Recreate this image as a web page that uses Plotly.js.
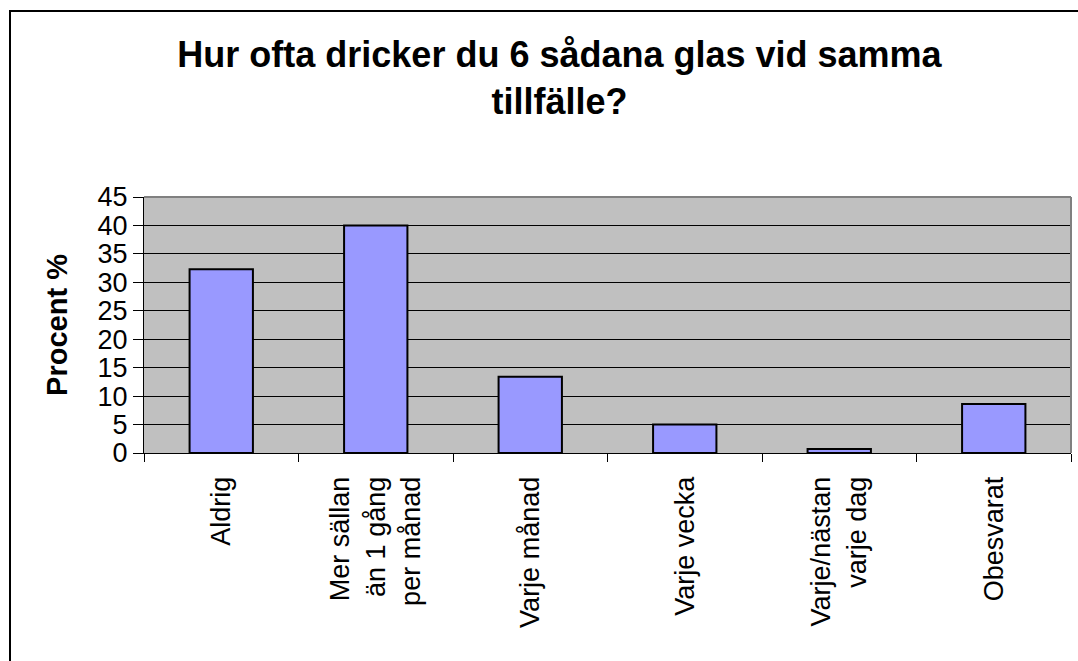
<!DOCTYPE html>
<html>
<head>
<meta charset="utf-8">
<script src="https://cdn.plot.ly/plotly-3.0.1.min.js"></script>
<style>
  html, body { margin: 0; padding: 0; background: #fff; overflow: hidden; }
  #wrap { position: relative; width: 1078px; height: 661px; }
  #plot { width: 1078px; height: 661px; }
  /* outer chart frame, cut off at right and bottom like the original */
  #frame { position: absolute; left: 9px; top: 10px; width: 1100px; height: 700px;
           border: 2px solid #000; pointer-events: none; }
</style>
</head>
<body>
<div id="wrap">
  <div id="plot"></div>
  <div id="frame"></div>
</div>
<script>
// survey answers, share of respondents in percent
var categories = [
    'Aldrig',
    'Mer sällan<br>än 1 gång<br>per månad',
    'Varje månad',
    'Varje vecka',
    'Varje/nästan<br>varje dag',
    'Obesvarat'
];
var percent = [32.3, 40.0, 13.4, 5.0, 0.7, 8.6];
var yTicks = [0, 5, 10, 15, 20, 25, 30, 35, 40, 45];

var font = 'Arial, "Liberation Sans", sans-serif';

var data = [{
    x: categories,
    y: percent,
    type: 'bar',
    marker: {
        color: '#9999FF',
        line: { color: '#000', width: 2 }
    },
    hoverinfo: 'x+y'
}];

var layout = {
    width: 1078,
    height: 661,
    margin: { l: 144, r: 7, t: 197, b: 208 },
    paper_bgcolor: '#fff',
    plot_bgcolor: '#C0C0C0',
    showlegend: false,
    bargap: 0.59,
    font: { family: font, color: '#000', size: 27 },
    title: {
        text: '<b>Hur ofta dricker du 6 sådana glas vid samma<br>tillfälle?</b>',
        font: { family: font, size: 36, color: '#000' },
        xref: 'container',
        x: 0.519,
        xanchor: 'center',
        yref: 'container',
        y: 0.899,
        yanchor: 'top'
    },
    xaxis: {
        type: 'category',
        tickangle: -90,
        tickson: 'boundaries',
        ticks: 'outside',
        ticklen: 8,
        tickcolor: '#000',
        ticklabelstandoff: 12,
        tickfont: { family: font, size: 27, color: '#000' },
        showline: true,
        linecolor: '#000',
        linewidth: 1,
        showgrid: false,
        automargin: false
    },
    yaxis: {
        range: [0, 45],
        tickvals: yTicks,
        ticks: 'outside',
        ticklen: 10,
        tickcolor: '#000',
        tickfont: { family: font, size: 27, color: '#000' },
        showline: true,
        linecolor: '#000',
        linewidth: 1,
        showgrid: true,
        gridcolor: '#000',
        gridwidth: 1,
        zeroline: false,
        automargin: false,
        title: {
            text: '<b>Procent %</b>',
            font: { family: font, size: 29, color: '#000' },
            standoff: 21
        }
    },
    shapes: [
        // grey border on top and right of the plot area
        { type: 'line', xref: 'paper', yref: 'paper', x0: 0, x1: 1, y0: 1, y1: 1,
          line: { color: '#808080', width: 2 } },
        { type: 'line', xref: 'paper', yref: 'paper', x0: 1, x1: 1, y0: 0, y1: 1,
          line: { color: '#808080', width: 2 } }
    ]
};

Plotly.newPlot('plot', data, layout, { displayModeBar: false, staticPlot: true });
</script>
</body>
</html>
